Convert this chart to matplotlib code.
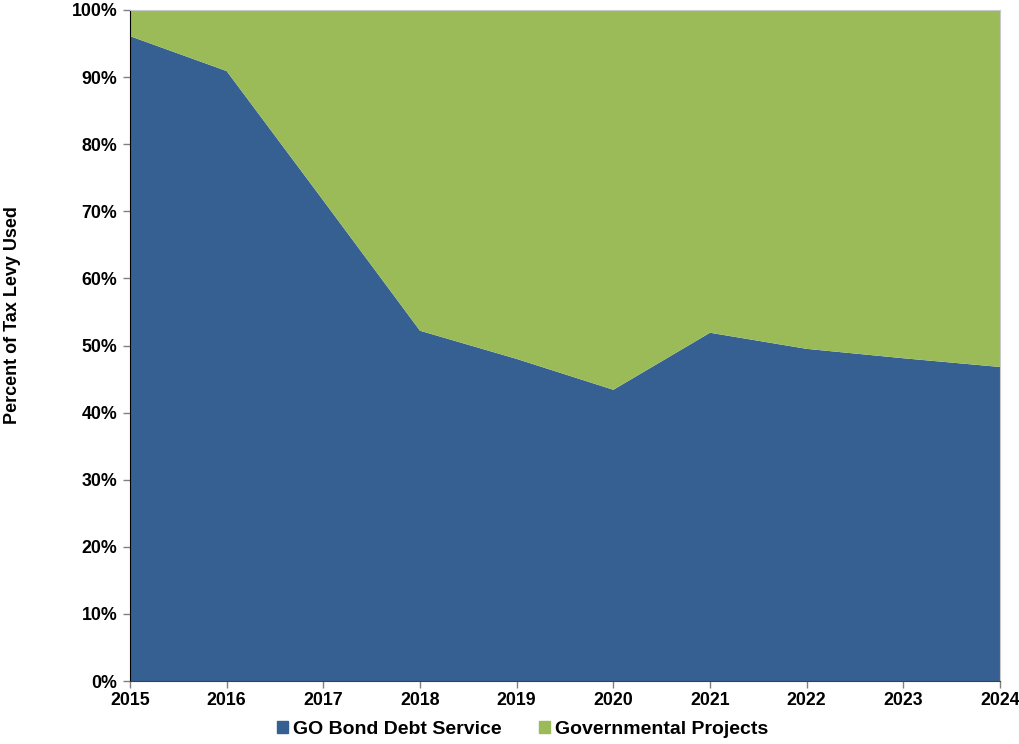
import matplotlib
matplotlib.use("Agg")
import matplotlib.pyplot as plt
from matplotlib.patches import Patch
from matplotlib.ticker import PercentFormatter

plt.rcParams["font.family"] = ["Liberation Sans", "DejaVu Sans"]

years = [2015, 2016, 2017, 2018, 2019, 2020, 2021, 2022, 2023, 2024]
go_bond = [96.1, 90.9, 71.6, 52.2, 48.0, 43.4, 51.9, 49.5, 48.1, 46.8]
gov_proj = [100 - v for v in go_bond]
labels = ["GO Bond Debt Service", "Governmental Projects"]
BLUE, GREEN = "#366092", "#9BBB59"

fig = plt.figure(figsize=(10.19, 7.44), dpi=100)
ax = fig.add_axes([130 / 1019, 1 - 681 / 744, 870 / 1019, 671 / 744])
ax.stackplot(years, go_bond, gov_proj, colors=[BLUE, GREEN], lw=0)

ax.set_xlim(years[0], years[-1])
ax.set_ylim(0, 100)
ax.set_xticks(years)
ax.set_yticks(range(0, 101, 10))
ax.yaxis.set_major_formatter(PercentFormatter(decimals=0))
ax.tick_params(labelsize=12.8, direction="out", length=5, width=1, color="#808080")
for t in ax.get_xticklabels() + ax.get_yticklabels():
    t.set_fontweight("bold")
ax.tick_params(axis="x", pad=3)
ax.tick_params(axis="y", pad=4)

ax.spines["left"].set_color("black")
ax.spines["bottom"].set_color("#404040")
ax.spines["top"].set_color("#c8c8c8")
ax.spines["right"].set_color("#c8c8c8")
ax.set_zorder(2)

fig.text(0.012, 1 - 315 / 744, "Percent of Tax Levy Used",
         rotation=90, va="center", ha="center", fontsize=13, fontweight="bold")

handles = [Patch(color=BLUE), Patch(color=GREEN)]
leg = fig.legend(handles, labels, loc="center", bbox_to_anchor=(0.513, 0.02),
                 ncol=2, frameon=False, prop={"size": 14, "weight": "bold"},
                 handlelength=0.55, handleheight=0.55, handletextpad=0.3,
                 columnspacing=1.9)

fig.savefig("out.png", dpi=100)
